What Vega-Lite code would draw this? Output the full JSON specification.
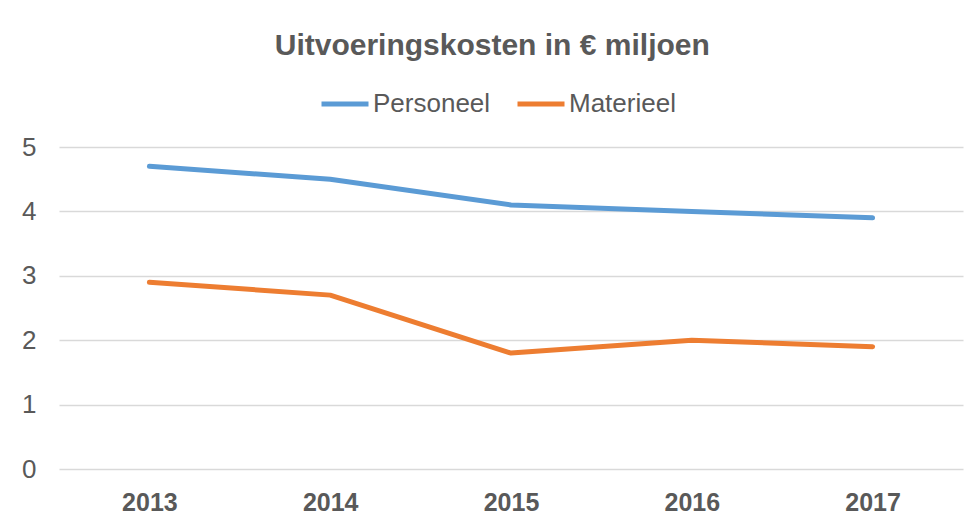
{
  "$schema": "https://vega.github.io/schema/vega-lite/v6.json",
  "autosize": "none",
  "width": 904,
  "height": 322,
  "padding": {"left": 59, "top": 147, "right": 9, "bottom": 53},
  "background": "white",
  "title": {
    "text": "Uitvoeringskosten in € miljoen",
    "font": "Liberation Sans",
    "fontSize": 30,
    "fontWeight": "bold",
    "color": "#595959",
    "anchor": "middle",
    "frame": "bounds",
    "offset": 17
  },
  "data": {
    "values": [
      {"jaar": "2013", "serie": "Personeel", "waarde": 4.7},
      {"jaar": "2014", "serie": "Personeel", "waarde": 4.5},
      {"jaar": "2015", "serie": "Personeel", "waarde": 4.1},
      {"jaar": "2016", "serie": "Personeel", "waarde": 4.0},
      {"jaar": "2017", "serie": "Personeel", "waarde": 3.9},
      {"jaar": "2013", "serie": "Materieel", "waarde": 2.9},
      {"jaar": "2014", "serie": "Materieel", "waarde": 2.7},
      {"jaar": "2015", "serie": "Materieel", "waarde": 1.8},
      {"jaar": "2016", "serie": "Materieel", "waarde": 2.0},
      {"jaar": "2017", "serie": "Materieel", "waarde": 1.9}
    ]
  },
  "mark": {"type": "line", "strokeWidth": 5, "strokeCap": "round", "strokeJoin": "round"},
  "encoding": {
    "x": {
      "field": "jaar",
      "type": "ordinal",
      "scale": {"type": "point", "padding": 0.5},
      "axis": {
        "title": null,
        "labelAngle": 0,
        "labelFont": "Liberation Sans",
        "labelFontSize": 25,
        "labelFontWeight": "bold",
        "labelColor": "#595959",
        "labelPadding": 21,
        "ticks": false,
        "domain": false,
        "grid": false
      }
    },
    "y": {
      "field": "waarde",
      "type": "quantitative",
      "scale": {"domain": [0, 5], "nice": false},
      "axis": {
        "title": null,
        "values": [0, 1, 2, 3, 4, 5],
        "labelFont": "Liberation Sans",
        "labelFontSize": 26,
        "labelColor": "#595959",
        "labelPadding": 23,
        "ticks": false,
        "domain": false,
        "grid": true,
        "gridColor": "#D9D9D9",
        "gridWidth": 1.3
      }
    },
    "color": {
      "field": "serie",
      "type": "nominal",
      "sort": ["Personeel", "Materieel"],
      "scale": {"domain": ["Personeel", "Materieel"], "range": ["#5B9BD5", "#ED7D31"]},
      "legend": {
        "title": null,
        "orient": "none",
        "direction": "horizontal",
        "legendX": 260,
        "legendY": -69,
        "symbolType": "stroke",
        "symbolSize": 2209,
        "symbolStrokeWidth": 5,
        "labelFont": "Liberation Sans",
        "labelFontSize": 26,
        "labelColor": "#595959",
        "labelOffset": 2,
        "columnPadding": 16
      }
    }
  },
  "config": {"view": {"stroke": null}}
}
